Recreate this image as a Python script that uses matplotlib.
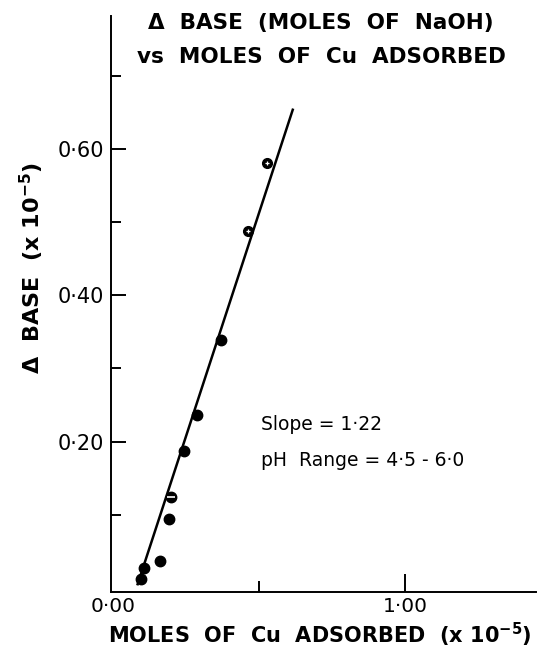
import matplotlib
matplotlib.use("Agg")
import matplotlib.pyplot as plt

# values (units of 1e-5 moles)
cu_filled = [0.095, 0.106, 0.161, 0.193, 0.244, 0.289, 0.369]
base_filled = [0.013, 0.027, 0.037, 0.094, 0.187, 0.237, 0.339]
cu_hatched = [0.461, 0.528]
base_hatched = [0.488, 0.581]
cu_half = [0.198]
base_half = [0.125]

slope = 1.22
x_intercept = 0.080
fit_x = [0.083, 0.617]
fit_y = [slope * (x - x_intercept) for x in fit_x]

xticks_major = [0.0, 1.0]
xticks_minor = [0.5]
xtick_labels = ["0·00", "1·00"]
yticks_major = [0.2, 0.4, 0.6]
yticks_minor = [0.1, 0.3, 0.5, 0.7]
ytick_labels = ["0·20", "0·40", "0·60"]

plt.rcParams['font.family'] = ['DejaVu Sans']

fig = plt.figure(figsize=(5.38, 6.59), dpi=100)
ax = fig.add_axes([0.2063, 0.1021, 0.790, 0.8736])

ax.plot(fit_x, fit_y, "-", color="black", lw=1.8, solid_capstyle="butt")
ax.plot(cu_filled, base_filled, "o", color="black", ms=7.5)
ax.plot(cu_hatched, base_hatched, "o", color="black", ms=7)
ax.plot(cu_hatched, base_hatched, "+", color="white", ms=3.5, mew=0.9)
ax.plot(cu_half, base_half, "o", color="black", ms=7.5)
ax.plot(cu_half, base_half, "_", color="white", ms=6, mew=1.2)

ax.set_xlim(-0.007, 1.449)
ax.set_ylim(-0.005, 0.7816)

for s in ["top", "right"]:
    ax.spines[s].set_visible(False)
for s in ["left", "bottom"]:
    ax.spines[s].set_linewidth(1.4)

ax.set_xticks(xticks_major)
ax.set_xticklabels(xtick_labels)
ax.set_xticks(xticks_minor, minor=True)
ax.set_yticks(yticks_major)
ax.set_yticklabels(ytick_labels)
ax.set_yticks(yticks_minor, minor=True)

ax.tick_params(axis="x", which="major", direction="in", length=13, width=1.4,
               pad=4, labelsize=14.5)
ax.tick_params(axis="x", which="minor", direction="in", length=8, width=1.4)
ax.tick_params(axis="y", which="major", direction="in", length=11, width=1.4,
               pad=5, labelsize=15)
ax.tick_params(axis="y", which="minor", direction="in", length=7, width=1.4)
# the 0.00 tick sits on the y spine, only its label shows
ax.xaxis.get_major_ticks()[0].tick1line.set_visible(False)

ax.text(0.506, 0.224, "Slope = 1·22", fontsize=13.5, va="center", ha="left")
ax.text(0.506, 0.174, "pH  Range = 4·5 - 6·0", fontsize=13.5, va="center", ha="left")

fig.text(0.597, 0.965, "Δ  BASE  (MOLES  OF  NaOH)", fontsize=15.5,
         fontweight="bold", ha="center", va="center")
fig.text(0.597, 0.9135, "vs  MOLES  OF  Cu  ADSORBED", fontsize=15.5,
         fontweight="bold", ha="center", va="center")
fig.text(0.595, 0.0243, r"MOLES  OF  Cu  ADSORBED  (x 10$^{\mathbf{-5}}$)",
         fontsize=15, fontweight="bold", ha="center", va="baseline")
fig.text(0.0595, 0.593, r"Δ  BASE  (x 10$^{\mathbf{-5}}$)", fontsize=16,
         fontweight="bold", ha="center", va="center", rotation=90)

fig.savefig("out.png", dpi=100)
